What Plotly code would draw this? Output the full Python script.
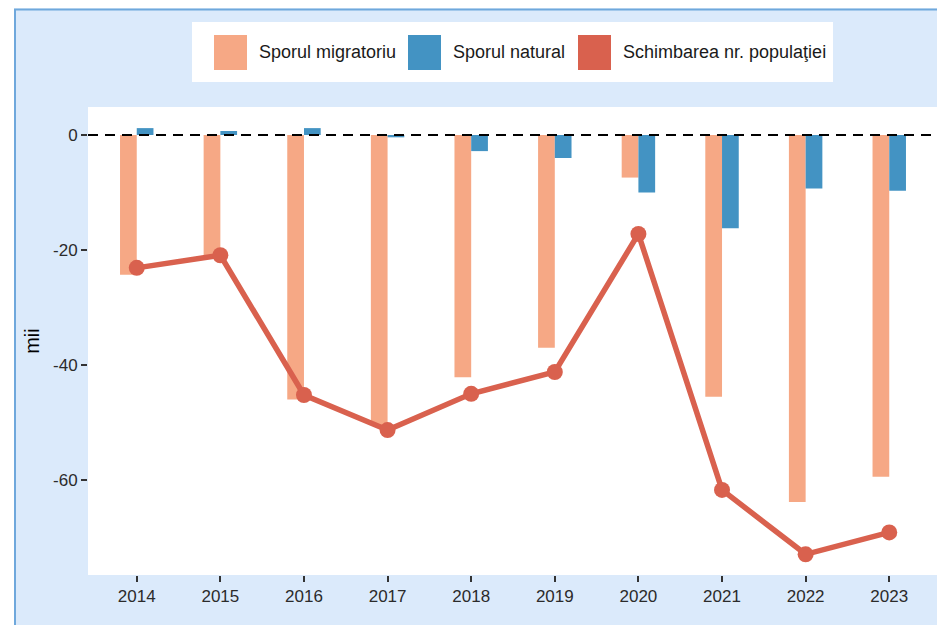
import plotly.graph_objects as go

years = [2014, 2015, 2016, 2017, 2018, 2019, 2020, 2021, 2022, 2023]
sporul_migratoriu = [-24.3, -21.0, -46.0, -50.4, -42.1, -37.0, -7.4, -45.5, -63.8, -59.4]
sporul_natural = [1.2, 0.7, 1.2, -0.4, -2.8, -4.0, -10.0, -16.2, -9.3, -9.7]
schimbarea_pop = [-23.1, -20.9, -45.2, -51.3, -45.0, -41.2, -17.2, -61.7, -72.9, -69.1]
legend_labels = ["Sporul migratoriu", "Sporul natural", "Schimbarea nr. populaţiei"]
y_ticks = [0, -20, -40, -60]

C_MIG = "#F6A885"
C_NAT = "#4393C3"
C_POP = "#D9614E"
BG = "#dbeafb"
BORDER = "#6fa8dc"

OFF = 8  # page body margin
W, H = 945 - OFF, 625 - OFF
# plot area in screenshot px: x 88..940, y 107..575
L, R, T, B = 88 - OFF, W - (940 - OFF), 107 - OFF, H - (575 - OFF)
PW, PH = W - L - R, H - T - B


def px(x):
    return (x - OFF - L) / PW


def py(y):
    return (H - B - (y - OFF)) / PH


fig = go.Figure()
fig.add_trace(go.Bar(x=years, y=sporul_migratoriu, width=0.2, offset=-0.2,
                     marker=dict(color=C_MIG, line=dict(width=0)),
                     name=legend_labels[0], showlegend=False))
fig.add_trace(go.Bar(x=years, y=sporul_natural, width=0.2, offset=0.0,
                     marker=dict(color=C_NAT, line=dict(width=0)),
                     name=legend_labels[1], showlegend=False))
fig.add_trace(go.Scatter(x=years, y=schimbarea_pop, mode="lines+markers",
                         line=dict(color=C_POP, width=5.5),
                         marker=dict(color=C_POP, size=16),
                         name=legend_labels[2], showlegend=False))

shapes = []
# white strip at the very top (above the border)
shapes.append(dict(type="rect", xref="paper", yref="paper", layer="above",
                   x0=px(0), x1=px(W + 30), y0=py(8.6), y1=py(-5),
                   fillcolor="white", line=dict(width=0)))
# left white strip
shapes.append(dict(type="rect", xref="paper", yref="paper", layer="above",
                   x0=px(-5), x1=px(14), y0=py(H + 30), y1=py(-5),
                   fillcolor="white", line=dict(width=0)))
# border lines (top and left)
shapes.append(dict(type="line", xref="paper", yref="paper", layer="above",
                   x0=px(14), x1=px(W + 30), y0=py(9.5), y1=py(9.5),
                   line=dict(color=BORDER, width=2)))
shapes.append(dict(type="line", xref="paper", yref="paper", layer="above",
                   x0=px(15), x1=px(15), y0=py(H + 30), y1=py(9),
                   line=dict(color=BORDER, width=2)))
# zero line
shapes.append(dict(type="line", xref="paper", yref="y", layer="above",
                   x0=0, x1=1, y0=0, y1=0,
                   line=dict(color="black", width=2, dash="10px,7px")))
# legend box
shapes.append(dict(type="rect", xref="paper", yref="paper", layer="above",
                   x0=px(192), x1=px(833), y0=py(82), y1=py(22),
                   fillcolor="white", line=dict(width=0)))
annotations = []
sw_x = [214, 408, 578]
tx_x = [257, 451, 621]
cols = [C_MIG, C_NAT, C_POP]
for i in range(3):
    shapes.append(dict(type="rect", xref="paper", yref="paper", layer="above",
                       x0=px(sw_x[i]), x1=px(sw_x[i] + 33), y0=py(70), y1=py(35),
                       fillcolor=cols[i], line=dict(width=0)))
    annotations.append(dict(xref="paper", yref="paper", x=px(tx_x[i]), y=py(52.5),
                            xanchor="left", yanchor="middle", showarrow=False,
                            text=legend_labels[i],
                            font=dict(family="Liberation Sans, Arial", size=18, color="#1a1a1a")))

fig.update_layout(
    width=W, height=H,
    margin=dict(l=L, r=R, t=T, b=B),
    paper_bgcolor=BG,
    plot_bgcolor="white",
    barmode="overlay",
    shapes=shapes,
    annotations=annotations,
    font=dict(family="Liberation Sans, Arial", size=17, color="#333333"),
    xaxis=dict(range=[2013.417, 2023.607], tickmode="array", tickvals=years,
               ticktext=[str(y) for y in years], showgrid=False, zeroline=False,
               showline=False, ticks="outside", ticklen=6, tickwidth=1.5, tickcolor="#333333",
               tickfont=dict(size=17, color="#2b2b2b")),
    yaxis=dict(range=[-76.5, 4.87], tickmode="array", tickvals=y_ticks,
               ticktext=[str(v) for v in y_ticks], showgrid=False, zeroline=False,
               showline=False, ticks="outside", ticklen=6, tickwidth=1.5, tickcolor="#333333",
               tickfont=dict(size=17, color="#2b2b2b"),
               title=dict(text="mii", font=dict(size=20, color="black"), standoff=8)),
)

fig.write_html("out.html")
